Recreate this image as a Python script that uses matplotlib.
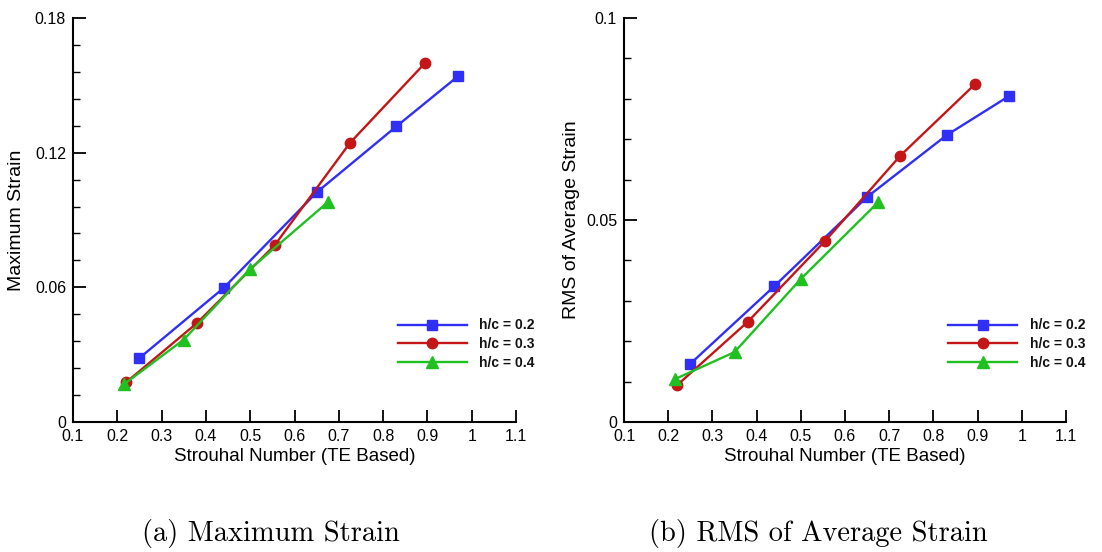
import matplotlib
matplotlib.use("Agg")
import matplotlib.pyplot as plt
from matplotlib.ticker import MultipleLocator

# Strouhal number (TE based) per series
st_02 = [0.25, 0.44, 0.65, 0.83, 0.97]
st_03 = [0.22, 0.38, 0.555, 0.725, 0.895]
st_04 = [0.215, 0.35, 0.50, 0.675]

# (a) maximum strain
max_02 = [0.0285, 0.0597, 0.1023, 0.1317, 0.1542]
max_03 = [0.0177, 0.0441, 0.0787, 0.1243, 0.1600]
max_04 = [0.0168, 0.0367, 0.0682, 0.0979]

# (b) RMS of average strain
rms_02 = [0.0144, 0.0336, 0.0557, 0.0710, 0.0806]
rms_03 = [0.0091, 0.0248, 0.0448, 0.0659, 0.0837]
rms_04 = [0.0106, 0.0173, 0.0354, 0.0544]

labels = ["h/c = 0.2", "h/c = 0.3", "h/c = 0.4"]
colors = ["#2f2ff5", "#c41616", "#20c020"]
markers = ["s", "o", "^"]

plt.rcParams["font.family"] = ["Liberation Sans", "DejaVu Sans"]
plt.rcParams["axes.unicode_minus"] = False

fig = plt.figure(figsize=(11.02, 5.52), dpi=100)
ax_a = fig.add_axes([73 / 1102, 1 - 422 / 552, 443 / 1102, 404 / 552])
ax_b = fig.add_axes([624 / 1102, 1 - 422 / 552, 442 / 1102, 404 / 552])

panels = [
    (ax_a, [max_02, max_03, max_04], "Maximum Strain", 0.18, 0.06, 0.012,
     "(a) Maximum Strain", -0.108, 271),
    (ax_b, [rms_02, rms_03, rms_04], "RMS of Average Strain", 0.1, 0.05, 0.01,
     "(b) RMS of Average Strain", -0.0995, 818),
]

for ax, ys, ylab, ymax, ymaj, ymin, caption, ylx, capx in panels:
    for xs, yv, lab, c, m in zip([st_02, st_03, st_04], ys, labels, colors, markers):
        ms = 8.5 if m == "^" else 7.5
        ax.plot(xs, yv, color=c, marker=m, markersize=ms, linewidth=1.7,
                markeredgecolor=c, label=lab)
    ax.set_xlim(0.1, 1.1)
    ax.set_ylim(0, ymax)
    ax.yaxis.set_minor_locator(MultipleLocator(ymin))
    ax.set_xticks([0.1, 0.2, 0.3, 0.4, 0.5, 0.6, 0.7, 0.8, 0.9, 1.0, 1.1])
    ax.set_xticklabels(["0.1", "0.2", "0.3", "0.4", "0.5", "0.6", "0.7", "0.8", "0.9", "1", "1.1"])
    yt = [0, ymaj, 2 * ymaj, 3 * ymaj][: int(round(ymax / ymaj)) + 1]
    ax.set_yticks(yt)
    ax.set_yticklabels(["0"] + [f"{v:g}" for v in yt[1:]])
    for s in ["top", "right"]:
        ax.spines[s].set_visible(False)
    for s in ["left", "bottom"]:
        ax.spines[s].set_linewidth(1.5)
    ax.tick_params(which="major", direction="in", length=9, width=1.3, labelsize=11.5, pad=5)
    ax.tick_params(which="minor", direction="in", length=5, width=1.0)
    ax.set_xlabel("Strouhal Number (TE Based)", fontsize=13.5, labelpad=3)
    ax.set_ylabel(ylab, fontsize=14)
    ax.yaxis.set_label_coords(ylx, 0.5)
    ax.patch.set_alpha(0)
    leg = ax.legend(loc="upper left", bbox_to_anchor=(0.72, 0.27), frameon=False,
                    prop={"weight": "bold", "size": 10}, handlelength=5.0,
                    handletextpad=0.9, labelspacing=0.35, borderaxespad=0)
    for t in leg.get_texts():
        t.set_color("#111111")
    fig.text(capx / 1102, 1 - 534 / 552, caption, ha="center", va="center",
             fontsize=20.5, family=["cmr10", "DejaVu Serif"])

fig.savefig("out.png", dpi=100)
